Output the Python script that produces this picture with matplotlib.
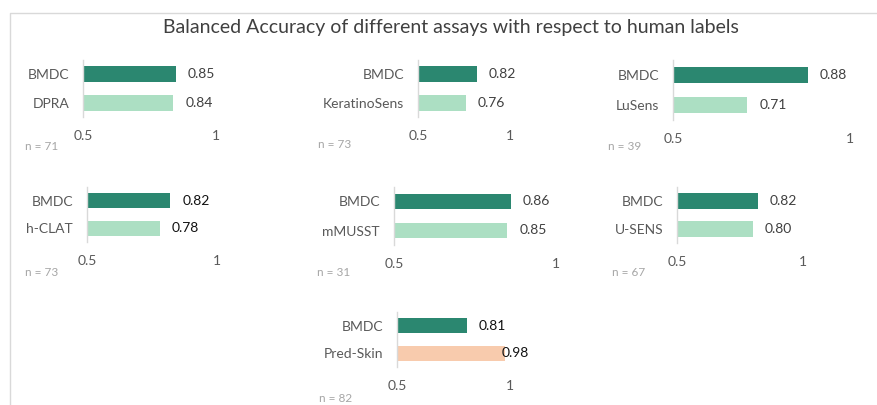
import matplotlib
matplotlib.use("Agg")
import matplotlib.pyplot as plt
from matplotlib.lines import Line2D

plt.rcParams['font.family'] = ['Lato', 'DejaVu Sans']

# ---------------- data ----------------
title = "Balanced Accuracy of different assays with respect to human labels"
reference_name = "BMDC"
assays = ["DPRA", "KeratinoSens", "LuSens", "h-CLAT", "mMUSST", "U-SENS", "Pred-Skin"]
bmdc_values = [0.85, 0.82, 0.88, 0.82, 0.86, 0.82, 0.81]
assay_values = [0.84, 0.76, 0.71, 0.78, 0.85, 0.80, 0.98]
value_labels_bmdc = ["0.85", "0.82", "0.88", "0.82", "0.86", "0.82", "0.81"]
value_labels_assay = ["0.84", "0.76", "0.71", "0.78", "0.85", "0.80", "0.98"]
n_values = [71, 73, 39, 73, 31, 67, 82]
x_ticks = [0.5, 1]
x_tick_labels = ["0.5", "1"]

# ---------------- style / layout ----------------
W, H = 877, 405
DARK = "#2b8770"
LIGHT = "#acdfc3"
PEACH = "#f8cbad"
assay_colors = [LIGHT, LIGHT, LIGHT, LIGHT, LIGHT, LIGHT, PEACH]
value_text_colors = ["#404040", "#404040", "#404040", "#111111", "#404040", "#404040", "#111111"]
# axes boxes in pixels: x0, x1, ytop, ybottom
boxes = [
    (83, 216, 60, 117),
    (418, 510, 60, 117),
    (673, 850, 60, 120),
    (87, 217, 187, 242),
    (394, 556, 187, 245),
    (677, 803, 187, 243),
    (397, 510, 312, 367),
]
n_pos = [(25, 146), (318, 145), (608, 146), (25, 272), (317, 272), (612, 272), (319, 399)]

fig = plt.figure(figsize=(W / 100, H / 100), dpi=100)
fig.patch.set_facecolor("white")

# outer frame (left + top)
fig.add_artist(Line2D([10 / W, 10 / W, 1.0], [0.0, 1 - 13 / H, 1 - 13 / H],
                      transform=fig.transFigure, color="#d9d9d9", lw=1.0))

fig.text(451 / W, 1 - 28 / H, title, ha="center", va="center",
         fontsize=14, color="#404040")

for i in range(len(assays)):
    x0, x1, yt, yb = boxes[i]
    ax = fig.add_axes([x0 / W, 1 - yb / H, (x1 - x0) / W, (yb - yt) / H])
    ax.set_facecolor("none")
    cats = [reference_name, assays[i]]
    vals = [bmdc_values[i], assay_values[i]]
    cols = [DARK, assay_colors[i]]
    ax.barh([0, 1], [v - 0.5 for v in vals], left=0.5, height=0.55, color=cols,
            edgecolor="none")
    ax.set_xlim(0.5, 1.0)
    ax.set_ylim(1.5, -0.5)
    ax.set_yticks([0, 1])
    ax.set_yticklabels(cats, fontsize=10, color="#595959")
    ax.set_xticks(x_ticks)
    ax.set_xticklabels(x_tick_labels, fontsize=10, color="#595959")
    ax.tick_params(axis="y", length=0, pad=10)
    ax.tick_params(axis="x", length=0, pad=9.5)
    for s in ["top", "right", "bottom"]:
        ax.spines[s].set_visible(False)
    ax.spines["left"].set_color("#d9d9d9")
    ax.spines["left"].set_linewidth(1.0)
    labels = [value_labels_bmdc[i], value_labels_assay[i]]
    for j, v in enumerate(vals):
        off = 12 if v < 0.95 else -4
        ax.annotate(labels[j], xy=(v, j), xytext=(off * 0.72, 0), textcoords="offset points",
                    ha="left", va="center", fontsize=10, color=value_text_colors[i],
                    annotation_clip=False)
    fig.text(n_pos[i][0] / W, 1 - n_pos[i][1] / H, f"n = {n_values[i]}",
             ha="left", va="center", fontsize=8.5, color="#a6a6a6")

fig.savefig("out.png", dpi=100, facecolor="white")
